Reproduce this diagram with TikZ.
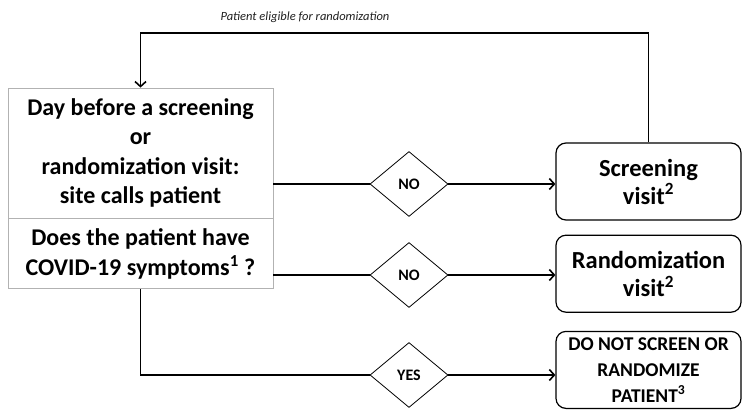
\documentclass[tikz,border=0pt]{standalone}
\usepackage{fontspec}
\setmainfont{Carlito}
\usetikzlibrary{positioning, arrows.meta, shapes.geometric}

\tikzset{
  askbox/.style={draw=gray!60, line width=0.8pt, minimum width=265pt, inner sep=0pt, align=center, font=\bfseries\fontsize{24}{29.5}\selectfont},
  visitbox/.style={draw, rounded corners=10pt, line width=1.2pt, minimum width=185pt, minimum height=77pt, inner sep=0pt, align=center, font=\bfseries\fontsize{24.5}{28}\selectfont},
  answer/.style={draw, diamond, line width=0.8pt, minimum width=78pt, minimum height=65pt, inner sep=0pt, font=\bfseries\fontsize{16}{18}\selectfont},
  rail/.style={line width=1.6pt},
  flow/.style={rail, -{Straight Barb[length=5pt,width=11pt]}}
}

\begin{document}
\begin{tikzpicture}[x=1pt, y=-1pt]
\useasboundingbox (0,0) rectangle (743,409);
\node[askbox, minimum height=130pt](DayBox) at (140.5,153){Day before a screening\\or\\randomization visit:\\site calls patient};
\node[askbox, minimum height=70pt, below = 0pt of DayBox](CovidBox){Does the patient have\\COVID-19 symptoms\textsuperscript{1} ?};
\node[visitbox](ScreenBox) at (648.5,181.5){Screening\\visit\textsuperscript{2}};
\node[visitbox, below = 14pt of ScreenBox](RandBox){Randomization\\visit\textsuperscript{2}};
\node[visitbox, below = 18pt of RandBox, font=\bfseries\fontsize{19.5}{26}\selectfont](StopBox){DO NOT SCREEN OR\\RANDOMIZE\\PATIENT\textsuperscript{3}};
\node[answer](NoScreen) at (409,184){NO};
\node[answer](NoRand) at (409,275){NO};
\node[answer](Yes) at (409,375){YES};
\coordinate(TopRail) at (400,33);
\node[font=\itshape\fontsize{12.5}{14}\selectfont, text=gray!25!black](EligibleLabel) at (305,17){Patient eligible for randomization};
\draw[rail] (NoScreen.west -| DayBox.east) -- (NoScreen.west);
\draw[rail] (NoRand.west -| CovidBox.east) -- (NoRand.west);
\draw[rail] (CovidBox.south) |- (Yes.west);
\draw[flow] (NoScreen.east) -- (NoScreen.east -| ScreenBox.west);
\draw[flow] (NoRand.east) -- (NoRand.east -| RandBox.west);
\draw[flow] (Yes.east) -- (Yes.east -| StopBox.west);
\draw[flow] (ScreenBox.north) |- (TopRail) -| (DayBox.north);
\end{tikzpicture}
\end{document}
